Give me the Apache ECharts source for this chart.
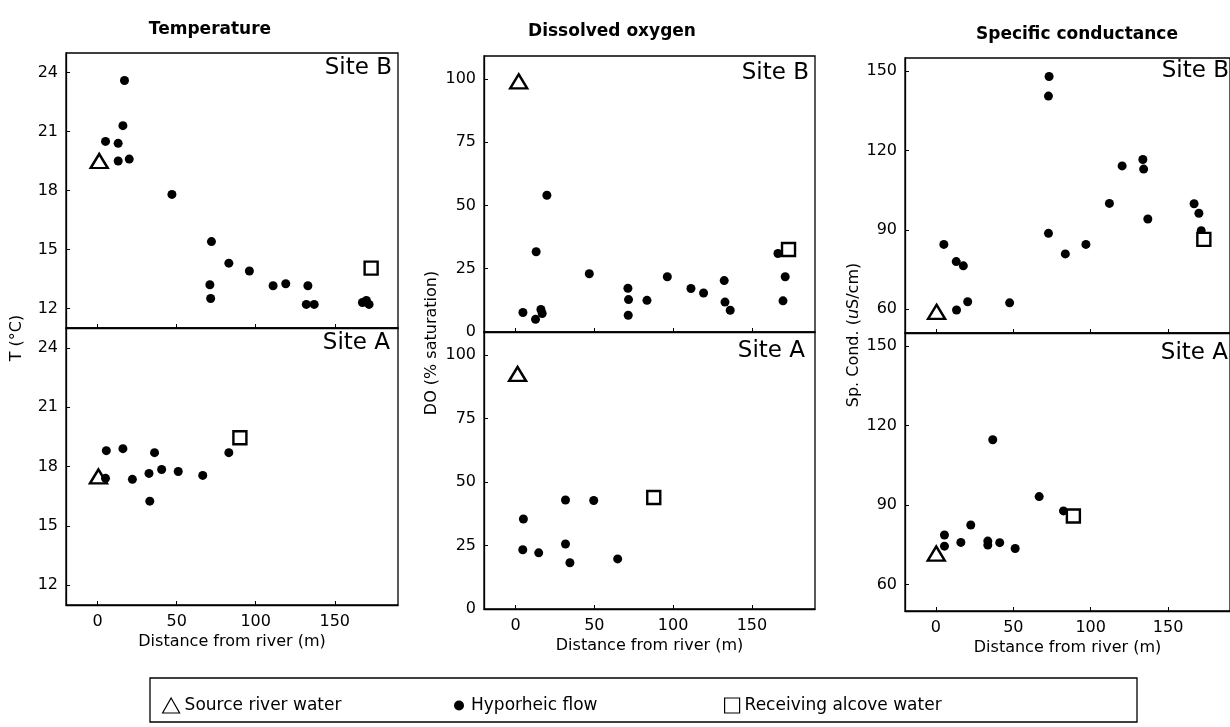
<!DOCTYPE html>
<html><head><meta charset="utf-8">
<script src="https://cdn.jsdelivr.net/npm/echarts@6/dist/echarts.min.js"></script>
<style>html,body{margin:0;padding:0;background:#fff}#c{width:1230px;height:727px}</style>
</head><body><div id="c"></div>
<script>
const panelTitles = ['Temperature', 'Dissolved oxygen', 'Specific conductance'];
const siteNames = ['Site B', 'Site A'];
const seriesNames = ['Source river water', 'Hyporheic flow', 'Receiving alcove water'];
const xTitle = 'Distance from river (m)';
const xTicks = [0, 50, 100, 150];
const tempTicks = [12, 15, 18, 21, 24];
const doTicks = [0, 25, 50, 75, 100];
const condTicks = [60, 90, 120, 150];

// Temperature (deg C)
const tempB_source = [[1, 19.5]];
const tempB_hypo = [[5, 20.5], [13, 20.4], [16, 21.3], [17, 23.6], [13, 19.5], [20, 19.6], [47, 17.8],
  [72, 15.4], [71, 13.2], [71.5, 12.5], [83, 14.3], [96, 13.9], [111, 13.15], [119, 13.25], [133, 13.15],
  [132, 12.2], [137, 12.2], [167.5, 12.3], [170, 12.4], [171.7, 12.2]];
const tempB_alcove = [[173, 14.05]];
const tempA_source = [[0.5, 17.5]];
const tempA_hypo = [[5, 17.4], [5.5, 18.8], [16, 18.9], [22, 17.35], [32.5, 17.65], [33, 16.25], [36, 18.7],
  [40.5, 17.85], [51, 17.75], [66.5, 17.55], [83, 18.7]];
const tempA_alcove = [[90, 19.45]];

// Dissolved oxygen (% saturation)
const doB_source = [[2, 99]];
const doB_hypo = [[4.7, 7.7], [12.7, 5], [13.1, 31.7], [16.1, 8.9], [16.9, 7.3], [19.9, 54], [46.8, 23],
  [71.3, 17.3], [71.7, 12.8], [71.5, 6.6], [83.4, 12.5], [96.3, 21.8], [111.3, 17.2], [119.3, 15.4],
  [132.4, 20.3], [132.9, 11.8], [136.2, 8.6], [166.5, 31], [171.1, 21.8], [169.7, 12.3]];
const doB_alcove = [[173.2, 32.6]];
const doA_source = [[1.3, 92.5]];
const doA_hypo = [[5, 35.4], [4.6, 23.3], [14.7, 22.1], [31.7, 42.9], [31.7, 25.6], [34.5, 18.2],
  [49.6, 42.7], [64.8, 19.7]];
const doA_alcove = [[87.7, 43.9]];

// Specific conductance (uS/cm)
const condB_source = [[0.4, 59]];
const condB_hypo = [[5.1, 84.5], [13.1, 78], [17.7, 76.4], [13.3, 59.7], [20.5, 62.8], [47.6, 62.4],
  [73.1, 148], [72.7, 140.6], [72.7, 88.7], [83.6, 80.9], [96.9, 84.5], [112.1, 100], [120.3, 114.2],
  [133.7, 116.6], [134.2, 113], [136.9, 94.1], [166.8, 99.9], [169.9, 96.3], [171.4, 89.7]];
const condB_alcove = [[173.1, 86.4]];
const condA_source = [[0.2, 71.7]];
const condA_hypo = [[5.5, 78.7], [5.5, 74.5], [16.1, 75.9], [22.5, 82.5], [33.5, 76.4], [33.5, 74.9],
  [41.2, 75.8], [36.7, 114.7], [51.2, 73.6], [66.7, 93.2], [82.4, 87.8]];
const condA_alcove = [[88.8, 85.9]];

const FONT = 'DejaVu Sans';
const INK = '#000';

const panels = [
  { src: tempB_source, hyp: tempB_hypo, alc: tempB_alcove, ymin: 11, ymax: 25, ticks: tempTicks, site: 0,
    grid: { left: 66, top: 53, width: 332, height: 275 } },
  { src: tempA_source, hyp: tempA_hypo, alc: tempA_alcove, ymin: 11, ymax: 25, ticks: tempTicks, site: 1,
    grid: { left: 66, top: 328, width: 332, height: 277 } },
  { src: doB_source, hyp: doB_hypo, alc: doB_alcove, ymin: 0, ymax: 109, ticks: doTicks, site: 0,
    grid: { left: 484, top: 56, width: 331, height: 276 } },
  { src: doA_source, hyp: doA_hypo, alc: doA_alcove, ymin: 0, ymax: 109, ticks: doTicks, site: 1,
    grid: { left: 484, top: 332, width: 331, height: 277 } },
  { src: condB_source, hyp: condB_hypo, alc: condB_alcove, ymin: 51, ymax: 155, ticks: condTicks, site: 0,
    grid: { left: 905, top: 58, width: 332, height: 275 } },
  { src: condA_source, hyp: condA_hypo, alc: condA_alcove, ymin: 50, ymax: 155, ticks: condTicks, site: 1,
    grid: { left: 905, top: 333, width: 332, height: 278 } }
];

const grids = [], xAxes = [], yAxes = [], series = [];
panels.forEach((p, i) => {
  grids.push(Object.assign({ show: true, borderColor: INK, borderWidth: 1.3, backgroundColor: 'transparent' }, p.grid));
  const isA = p.site === 1;
  xAxes.push({
    type: 'value', gridIndex: i, min: -20, max: 190,
    splitLine: { show: false },
    axisLine: { show: true, onZero: false, lineStyle: { color: INK, width: 1.3 } },
    axisTick: { show: true, inside: true, length: 4, customValues: xTicks, lineStyle: { color: INK } },
    axisLabel: { show: isA, customValues: xTicks, color: INK, fontSize: 16, fontFamily: FONT, margin: 9 },
    name: isA ? xTitle : '', nameLocation: 'middle', nameGap: 29,
    nameTextStyle: { color: INK, fontSize: 16, fontFamily: FONT }
  });
  yAxes.push({
    type: 'value', gridIndex: i, min: p.ymin, max: p.ymax,
    splitLine: { show: false },
    axisLine: { show: true, onZero: false, lineStyle: { color: INK, width: 1.3 } },
    axisTick: { show: true, inside: true, length: 4, customValues: p.ticks, lineStyle: { color: INK } },
    axisLabel: { show: true, customValues: p.ticks, color: INK, fontSize: 16, fontFamily: FONT, margin: 8 }
  });
  series.push({
    name: seriesNames[0], type: 'scatter', xAxisIndex: i, yAxisIndex: i, data: p.src,
    symbol: 'triangle', symbolSize: [17, 14], z: 3,
    itemStyle: { color: '#fff', borderColor: INK, borderWidth: 2.4, opacity: 1 }
  });
  series.push({
    name: seriesNames[1], type: 'scatter', xAxisIndex: i, yAxisIndex: i, data: p.hyp,
    symbol: 'circle', symbolSize: 9, z: 4,
    itemStyle: { color: INK, opacity: 1 }
  });
  series.push({
    name: seriesNames[2], type: 'scatter', xAxisIndex: i, yAxisIndex: i, data: p.alc,
    symbol: 'rect', symbolSize: 13, z: 5,
    itemStyle: { color: '#fff', borderColor: INK, borderWidth: 2.4, opacity: 1 }
  });
});

const graphics = [];
// Panel titles
[[210, 30], [612, 32], [1077, 35]].forEach((pos, k) => {
  graphics.push({ type: 'text', x: pos[0], y: pos[1], style: {
    text: panelTitles[k], fill: INK, fontSize: 17, fontWeight: 'bold', fontFamily: FONT,
    align: 'center', verticalAlign: 'middle', textAlign: 'center', textVerticalAlign: 'middle' } });
});
// Site labels
[[392, 57, 0], [390, 332, 1], [809, 62, 0], [805, 340, 1], [1229, 60, 0], [1228, 342, 1]].forEach(s => {
  graphics.push({ type: 'text', x: s[0], y: s[1], z: 10, style: {
    text: siteNames[s[2]], fill: INK, fontSize: 23, fontFamily: FONT,
    align: 'right', verticalAlign: 'top', textAlign: 'right', textVerticalAlign: 'top' } });
});
// Y axis titles
graphics.push({ type: 'text', x: 17, y: 338, rotation: Math.PI / 2, style: {
  text: 'T (°C)', fill: INK, fontSize: 16, fontFamily: FONT,
  align: 'center', verticalAlign: 'middle', textAlign: 'center', textVerticalAlign: 'middle' } });
graphics.push({ type: 'text', x: 432, y: 343, rotation: Math.PI / 2, style: {
  text: 'DO (% saturation)', fill: INK, fontSize: 16, fontFamily: FONT,
  align: 'center', verticalAlign: 'middle', textAlign: 'center', textVerticalAlign: 'middle' } });
graphics.push({ type: 'text', x: 854, y: 335, rotation: Math.PI / 2, style: {
  text: '{a|Sp. Cond. (}{b|u}{a|S/cm)}', fill: INK,
  rich: { a: { fontSize: 16, fontFamily: FONT, fill: INK }, b: { fontSize: 16, fontFamily: FONT, fontStyle: 'italic', fill: INK } },
  align: 'center', verticalAlign: 'middle', textAlign: 'center', textVerticalAlign: 'middle' } });
// Legend frame
graphics.push({ type: 'rect', z: 0, shape: { x: 150, y: 678, width: 987, height: 44 },
  style: { fill: 'none', stroke: INK, lineWidth: 1.3 } });

const legendBase = {
  orient: 'horizontal', top: 692, itemGap: 0,
  textStyle: { color: INK, fontSize: 17, fontFamily: FONT },
  itemStyle: { borderWidth: 1.2 }
};
const legends = [
  Object.assign({}, legendBase, { data: [seriesNames[0]], left: 157, itemWidth: 17, itemHeight: 15 }),
  Object.assign({}, legendBase, { data: [seriesNames[1]], left: 449, itemWidth: 14, itemHeight: 10 }),
  Object.assign({}, legendBase, { data: [seriesNames[2]], left: 719, itemWidth: 15, itemHeight: 15 })
];

const chart = echarts.init(document.getElementById('c'), null, { renderer: 'canvas' });
chart.setOption({
  animation: false,
  backgroundColor: '#fff',
  grid: grids, xAxis: xAxes, yAxis: yAxes, series: series,
  legend: legends,
  graphic: graphics
});
</script>
</body></html>
